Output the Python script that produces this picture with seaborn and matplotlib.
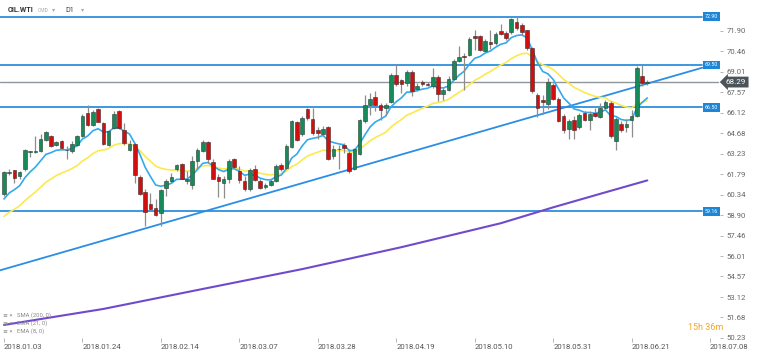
import matplotlib
matplotlib.use("Agg")
import matplotlib.pyplot as plt
import matplotlib.transforms as mtransforms
import seaborn as sns
import numpy as np
import pandas as pd

# ---------------- data ----------------
opens = [60.37, 61.85, 62.05, 61.66, 62.17, 63.35, 63.38, 63.46, 64.19, 64.47,
         63.84, 64.12, 63.52, 63.39, 63.88, 64.47, 66.11, 65.24, 66.41, 65.41,
         63.88, 65.05, 66.23, 64.94, 63.53, 63.93, 61.61, 60.53, 59.71, 59.43,
         59.08, 60.83, 61.30, 62.12, 62.48, 61.30, 61.02, 62.71, 63.41, 64.07,
         62.64, 61.61, 61.14, 61.47, 62.83, 62.01, 61.31, 60.72, 62.17, 61.31,
         60.91, 61.03, 61.31, 62.41, 62.25, 63.72, 65.46, 64.59, 66.42, 65.69,
         64.89, 64.59, 65.13, 63.07, 63.55, 63.82, 63.30, 62.17, 63.18, 65.53,
         66.70, 67.22, 66.70, 66.46, 66.86, 68.81, 68.41, 68.22, 68.99, 67.80,
         68.29, 68.15, 67.99, 68.64, 67.47, 67.75, 68.50, 69.79, 70.14, 70.17,
         71.51, 71.55, 70.48, 71.13, 71.04, 71.88, 71.74, 71.79, 72.56, 72.33,
         71.93, 70.68, 67.40, 67.05, 66.77, 68.11, 67.10, 65.88, 64.99, 65.60,
         65.13, 66.11, 65.60, 66.11, 65.83, 66.47, 66.82, 64.12, 65.36, 65.13,
         65.64, 65.90, 68.69, 68.22]
highs = [62.00, 62.12, 62.10, 62.00, 63.60, 63.46, 64.51, 64.59, 64.82, 64.52,
         64.12, 64.19, 63.77, 64.12, 64.52, 66.06, 66.70, 66.34, 66.46, 65.45,
         64.94, 66.23, 66.30, 65.41, 64.23, 64.00, 61.70, 60.72, 60.44, 60.01,
         60.76, 61.42, 61.89, 62.48, 62.55, 62.00, 63.06, 63.65, 64.23, 64.12,
         62.83, 61.77, 61.66, 62.83, 62.94, 62.36, 61.66, 62.25, 62.41, 61.47,
         61.19, 61.47, 62.48, 62.55, 63.89, 65.64, 65.53, 65.88, 66.46, 66.46,
         65.13, 65.22, 65.22, 63.82, 63.82, 64.00, 63.54, 63.65, 65.69, 67.40,
         67.52, 67.64, 66.82, 66.82, 68.93, 69.58, 68.50, 69.11, 69.11, 68.22,
         68.46, 68.27, 69.28, 68.81, 67.87, 68.69, 69.91, 70.85, 70.33, 71.46,
         71.93, 71.62, 71.32, 71.93, 71.79, 72.40, 71.86, 72.79, 72.96, 72.44,
         71.97, 70.75, 67.52, 67.40, 68.57, 68.22, 67.24, 66.07, 65.65, 65.93,
         66.11, 66.23, 66.23, 66.46, 66.82, 67.05, 66.93, 65.83, 65.53, 65.65,
         66.35, 69.40, 69.51, 68.40]
lows = [60.25, 61.70, 61.19, 61.42, 62.00, 62.99, 63.30, 63.37, 64.14, 63.72,
        63.77, 63.53, 62.83, 63.30, 63.81, 64.42, 65.17, 65.17, 65.45, 63.88,
        63.81, 65.00, 64.98, 63.88, 63.41, 61.19, 60.30, 58.14, 59.26, 58.84,
        58.14, 60.25, 61.19, 62.00, 61.42, 61.07, 60.72, 62.12, 63.34, 62.59,
        61.42, 60.20, 60.13, 61.19, 62.20, 61.19, 60.60, 60.60, 61.28, 60.72,
        60.77, 60.96, 61.24, 62.01, 62.17, 63.65, 64.12, 64.47, 65.64, 64.52,
        64.24, 64.47, 62.78, 62.88, 62.13, 63.30, 61.89, 62.08, 63.11, 65.41,
        66.00, 66.23, 65.64, 66.00, 66.82, 68.04, 67.52, 67.99, 67.28, 67.64,
        67.99, 67.99, 67.87, 66.93, 67.00, 67.64, 68.41, 69.68, 67.70, 70.10,
        70.57, 70.45, 70.40, 70.61, 70.92, 71.62, 71.27, 71.69, 71.97, 71.62,
        70.57, 67.52, 65.83, 66.07, 66.40, 67.00, 65.45, 64.66, 64.29, 64.29,
        64.99, 65.53, 64.89, 65.83, 65.76, 66.35, 64.35, 63.49, 64.75, 64.75,
        64.42, 65.80, 68.04, 68.10]
closes = [61.94, 61.92, 61.54, 61.94, 63.51, 63.40, 63.45, 64.30, 64.75, 63.77,
          64.05, 63.65, 63.47, 63.95, 64.47, 65.92, 65.24, 66.16, 65.50, 63.95,
          64.82, 66.06, 65.05, 64.00, 63.93, 61.70, 60.37, 59.12, 59.36, 58.91,
          60.65, 61.30, 61.58, 62.41, 61.47, 61.47, 62.71, 63.53, 64.05, 62.83,
          61.47, 61.28, 61.47, 62.71, 62.31, 61.35, 60.72, 62.08, 61.38, 60.84,
          61.03, 61.31, 62.36, 62.17, 63.77, 65.53, 64.19, 65.76, 65.76, 64.66,
          64.66, 64.99, 62.83, 63.58, 63.60, 63.65, 62.01, 63.54, 65.60, 66.70,
          67.10, 66.70, 66.35, 66.70, 68.81, 68.15, 68.15, 68.97, 67.64, 68.04,
          68.15, 68.06, 68.64, 67.47, 67.75, 68.53, 69.79, 70.05, 70.05, 71.32,
          71.39, 70.52, 71.20, 70.99, 71.69, 71.69, 71.39, 72.72, 72.09, 71.79,
          70.68, 67.64, 66.47, 66.86, 68.27, 67.10, 65.53, 64.89, 65.53, 64.94,
          66.00, 65.64, 66.07, 65.93, 66.47, 66.86, 64.47, 65.69, 64.89, 65.36,
          65.87, 69.28, 68.22, 68.29]

ema8_prev = 59.5     # EMA(8) value just before the first bar
ema21_prev = 58.5    # EMA(21) value just before the first bar

sma200_bars = [0, 19, 38, 57, 76, 95, 105, 115, 123]
sma200_vals = [51.15, 52.28, 53.69, 55.09, 56.64, 58.33, 59.45, 60.51, 61.35]

trend_bars = [-0.8, 133.5]
trend_vals = [55.0, 69.3]

levels = [72.90, 69.50, 66.50, 59.16]
level_labels = ["72.90", "69.50", "66.50", "59.16"]
last_price = 68.29

date_ticks = [0, 15, 30, 45, 60, 75, 90, 105, 120, 135]
date_labels = ["2018.01.03", "2018.01.24", "2018.02.14", "2018.03.07", "2018.03.28",
               "2018.04.19", "2018.05.10", "2018.05.31", "2018.06.21", "2018.07.08"]
price_ticks = [71.90, 70.46, 69.01, 67.57, 66.12, 64.68, 63.23, 61.79, 60.34,
               58.90, 57.46, 56.01, 54.57, 53.12, 51.68, 50.23]

# ---------------- style ----------------
sns.set_theme(style="white")
plt.rcParams['font.family'] = ['Roboto', 'DejaVu Sans']

W, H = 760, 354
fig = plt.figure(figsize=(W / 100, H / 100), dpi=100)
ax_right_px = 720
ax_bottom_px = 338
ax = fig.add_axes([0, 1 - ax_bottom_px / H, ax_right_px / W, ax_bottom_px / H])
ax.set_facecolor("white")
for s in ax.spines.values():
    s.set_visible(False)

n = len(closes)
x = np.arange(n)
df = pd.DataFrame({"bar": x, "open": opens, "high": highs, "low": lows, "close": closes})

ax.set_xlim(-0.76, 136.9)
ax.set_ylim(50.31, 74.08)

# horizontal levels
for lv in levels:
    ax.axhline(lv, xmin=0, xmax=702 / ax_right_px, color="#2f8fdc", lw=1.3, zorder=2)
ax.axhline(last_price, xmin=0, xmax=0.997, color="#8f9598", lw=1.0, zorder=2)

# trend line
sns.lineplot(x=trend_bars, y=trend_vals, ax=ax, color="#2a8ee6", lw=1.3, zorder=3,
             legend=False)

# moving averages
ema8 = pd.Series([ema8_prev] + closes).ewm(span=8, adjust=False).mean().iloc[1:].to_numpy()
ema21 = pd.Series([ema21_prev] + closes).ewm(span=21, adjust=False).mean().iloc[1:].to_numpy()
sns.lineplot(x=sma200_bars, y=sma200_vals, ax=ax, color="#6f4bcc", lw=1.5, zorder=3,
             legend=False)
sns.lineplot(x=x, y=ema21, ax=ax, color="#fce94f", lw=1.2, zorder=4, legend=False)
sns.lineplot(x=x, y=ema8, ax=ax, color="#33aaee", lw=1.2, zorder=5, legend=False)

# candles
up = df["close"] >= df["open"]
ax.vlines(df["bar"], df["low"], df["high"], color="#8d8d8d", lw=0.9, zorder=6)
body_lo = np.minimum(df["open"], df["close"])
body_h = np.maximum(np.abs(df["close"] - df["open"]), 0.05)
ax.bar(df["bar"][up], body_h[up], bottom=body_lo[up], width=0.7,
       color="#168a58", edgecolor="#2d3b35", linewidth=0.4, zorder=7)
ax.bar(df["bar"][~up], body_h[~up], bottom=body_lo[~up], width=0.7,
       color="#d10f0f", edgecolor="#3a2a2a", linewidth=0.4, zorder=7)

# axes ticks
ax.yaxis.tick_right()
ax.set_yticks(price_ticks)
ax.set_yticklabels([f"{v:.2f}" for v in price_ticks])
ax.tick_params(axis="y", right=True, length=2.5, width=0.6, color="#aaaaaa",
               labelsize=5.6, labelcolor="#666666", pad=2)
ax.set_xticks(date_ticks)
ax.set_xticklabels(date_labels, ha="left")
ax.tick_params(axis="x", bottom=True, length=3, width=0.6, color="#aaaaaa",
               labelsize=5.6, labelcolor="#555555", pad=1.5)
ax.grid(False)

# level boxes
trans = mtransforms.blended_transform_factory(ax.transAxes, ax.transData)
for lv, lab in zip(levels, level_labels):
    ax.text(711.5 / ax_right_px, lv, lab, transform=trans, ha="center", va="center",
            fontsize=3.8, color="white", zorder=10,
            bbox=dict(boxstyle="square,pad=0.35", fc="#1d86d6", ec="none"))

# last price box
ax.text(736 / ax_right_px, last_price, "68.29", transform=trans, ha="center", va="center",
        fontsize=5.8, color="white", zorder=11, clip_on=False,
        bbox=dict(boxstyle="larrow,pad=0.3", fc="#4b545b", ec="none"))

# header
fig.text(8 / W, 1 - 10 / H, "OIL.WTI", fontsize=5.2, color="#333333", va="center",
         fontweight="bold")
fig.text(38 / W, 1 - 10 / H, "CMD", fontsize=3.6, color="#aaaaaa", va="center")
fig.text(52 / W, 1 - 10 / H, "▾", fontsize=4.5, color="#aaaaaa", va="center")
fig.text(65 / W, 1 - 10 / H, "D1", fontsize=5.2, color="#444444", va="center")
fig.text(81 / W, 1 - 10 / H, "▾", fontsize=4.5, color="#aaaaaa", va="center")

# indicator legend
for yy, lab in zip([315.5, 323.5, 331.5], ["SMA (200, 0)", "EMA (21, 0)", "EMA (8, 0)"]):
    fig.text(3 / W, 1 - yy / H, "≡ ×", fontsize=4.2, color="#888888", va="center")
    fig.text(17 / W, 1 - yy / H, lab, fontsize=4.2, color="#888888", va="center")

# timer
fig.text(688 / W, 1 - 328 / H, "15h 36m", fontsize=6.5, color="#f5a623", va="center")

fig.savefig("out.png", dpi=100, facecolor="white")
